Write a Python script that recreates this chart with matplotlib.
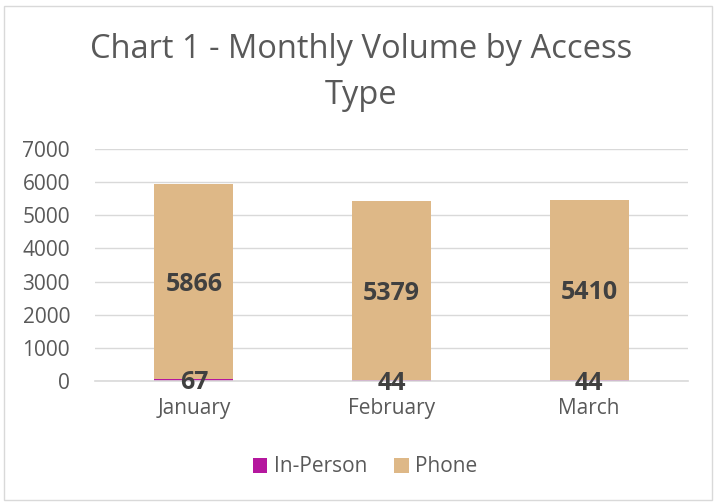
import matplotlib
matplotlib.use("Agg")
import matplotlib.pyplot as plt
from matplotlib.patches import Rectangle
import numpy as np

months = ["January", "February", "March"]
in_person = [67, 44, 44]
phone = [5866, 5379, 5410]
yticks = [0, 1000, 2000, 3000, 4000, 5000, 6000, 7000]

plt.rcParams['font.family'] = ['Open Sans', 'DejaVu Sans']

fig = plt.figure(figsize=(7.16, 5.04), dpi=100)
ax = fig.add_axes([95/716, 1 - 381/504, (688-95)/716, (381-149)/504])

x = np.arange(len(months))
w = 0.4
c_in = "#B5179E"
c_ph = "#DEB887"
ax.bar(x, in_person, w, color=c_in, label="In-Person", zorder=3)
ax.bar(x, phone, w, bottom=in_person, color=c_ph, label="Phone", zorder=3)

for i in range(len(months)):
    ax.text(x[i], in_person[i] / 2, str(in_person[i]), ha="center", va="center_baseline",
            fontsize=18, fontweight="bold", color="#404040", zorder=5)
    ax.text(x[i], in_person[i] + phone[i] / 2, str(phone[i]), ha="center", va="center_baseline",
            fontsize=18, fontweight="bold", color="#404040", zorder=5)

ax.set_xlim(-0.5, 2.5)
ax.set_ylim(0, 7000)
ax.set_yticks(yticks)
ax.set_yticklabels([str(t) for t in yticks])
ax.set_xticks(x)
ax.set_xticklabels(months)
ax.tick_params(axis="both", length=0, labelsize=15, labelcolor="#595959")
ax.tick_params(axis="y", pad=18)
ax.tick_params(axis="x", pad=12)
ax.grid(axis="y", color="#D9D9D9", linewidth=1, zorder=0)
for s in ["top", "right", "left"]:
    ax.spines[s].set_visible(False)
ax.spines["bottom"].set_color("#D9D9D9")
ax.spines["bottom"].set_linewidth(1.2)
ax.spines["bottom"].set_zorder(4)

fig.text(361/716, 1 - 50/504, "Chart 1 - Monthly Volume by Access", ha="center", va="center",
         fontsize=23.5, color="#595959")
fig.text(361/716, 1 - 95/504, "Type", ha="center", va="center", fontsize=23.5, color="#595959")

leg = fig.legend(loc="center", bbox_to_anchor=(365/716, 1 - 467/504), ncol=2, frameon=False,
                 fontsize=15, handlelength=0.7, handleheight=0.7, handletextpad=0.3,
                 columnspacing=1.3, labelcolor="#595959")

fig.patches.append(Rectangle((4/716, 4/504), 708/716, 494/504, transform=fig.transFigure,
                             fill=False, edgecolor="#D9D9D9", linewidth=1))

fig.savefig("out.png", dpi=100)
